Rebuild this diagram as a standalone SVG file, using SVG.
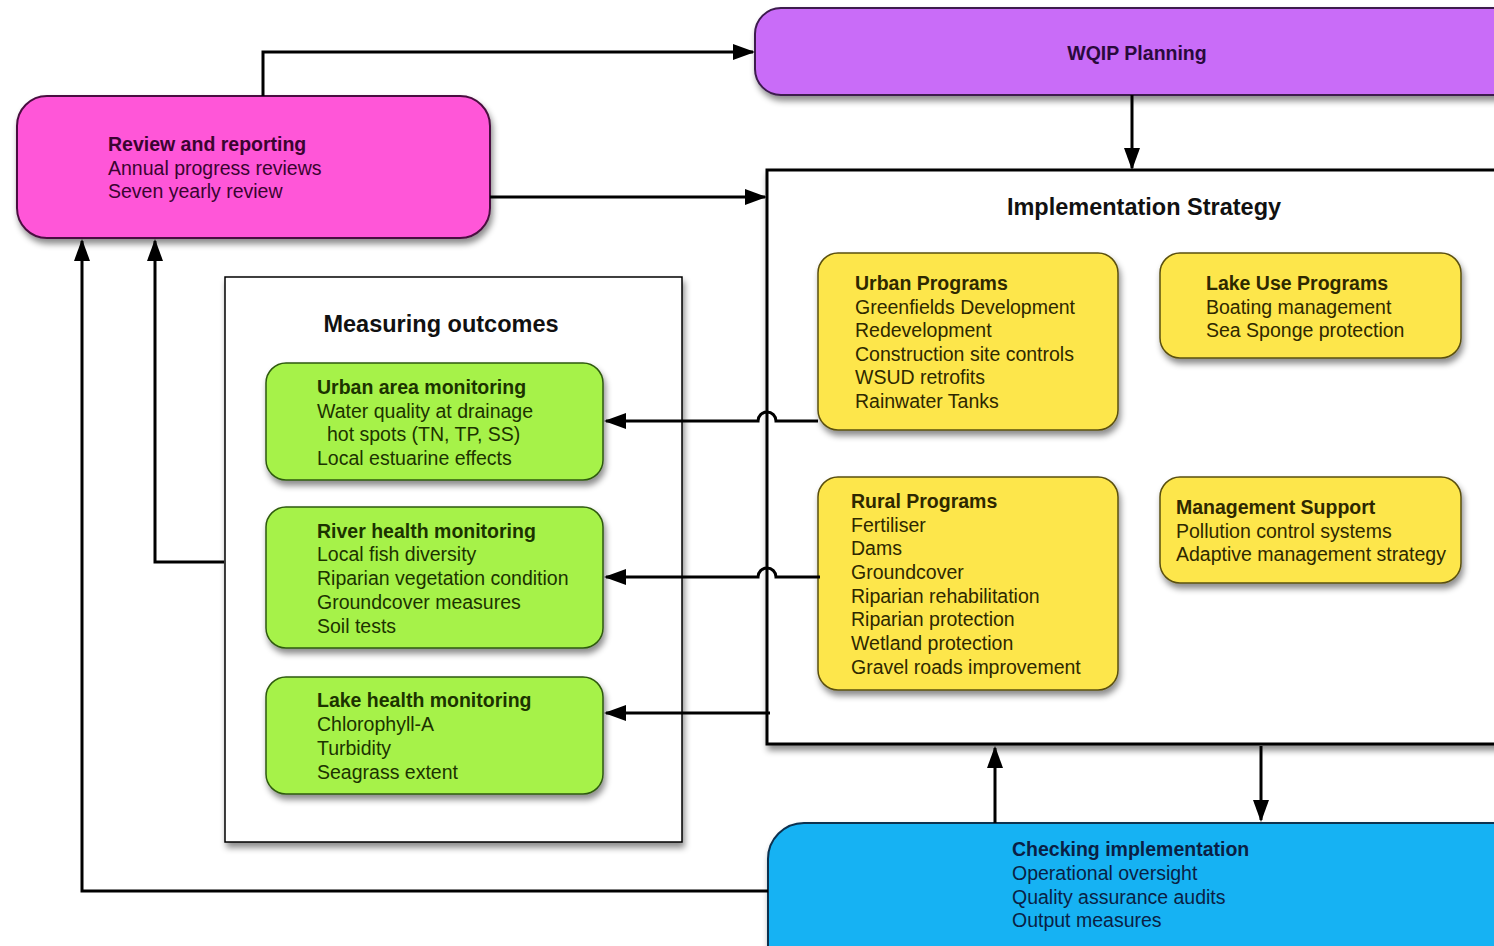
<svg xmlns="http://www.w3.org/2000/svg" width="1494" height="946" viewBox="0 0 1494 946">
<defs>
<filter id="sh" x="-10%" y="-10%" width="130%" height="140%">
<feDropShadow dx="2" dy="5" stdDeviation="3" flood-color="#000" flood-opacity="0.45"/>
</filter>
<marker id="ah" markerUnits="userSpaceOnUse" markerWidth="22" markerHeight="16" refX="20" refY="8" orient="auto">
<path d="M0,0 L22,8 L0,16 z" fill="#000"/>
</marker>
</defs>
<style>
text{font-family:"Liberation Sans",Arial,sans-serif;font-size:19.5px}
.b{font-weight:bold}
.t{font-weight:bold;font-size:23.5px;fill:#111}
.frame{fill:#fff;stroke:#000;filter:url(#sh)}
.y{fill:#fde64b;stroke:#5a4f10;stroke-width:1.5;filter:url(#sh)}
.g{fill:#a6f24a;stroke:#2f5a10;stroke-width:1.5;filter:url(#sh)}
.yt{fill:#2e2800}
.gt{fill:#1c3300}
.c{fill:none;stroke:#000;stroke-width:3}
</style>
<rect width="1494" height="946" fill="#fff"/>

<g id="wqip-planning">
<rect x="755" y="8" width="780" height="87" rx="26" fill="#c96cf8" stroke="#3c1a4e" stroke-width="2" filter="url(#sh)"/>
<text x="1137" y="60" text-anchor="middle" class="b" fill="#2a0a3c">WQIP Planning</text>
</g>

<g id="review-reporting">
<rect x="17" y="96" width="473" height="142" rx="30" fill="#ff57d8" stroke="#4a1040" stroke-width="2" filter="url(#sh)"/>
<text x="108" y="151" class="b" fill="#3a0430">Review and reporting</text>
<text x="108" y="175" fill="#3a0430">Annual progress reviews</text>
<text x="108" y="198" fill="#3a0430">Seven yearly review</text>
</g>

<g id="implementation-strategy">
<rect x="767" y="170" width="760" height="574" class="frame" stroke-width="3"/>
<text x="1144" y="215" text-anchor="middle" class="t">Implementation Strategy</text>
</g>

<g id="urban-programs">
<rect x="818" y="253" width="300" height="177" rx="20" class="y"/>
<text x="855" y="290" class="b yt">Urban Programs</text>
<text x="855" y="314" class="yt">Greenfields Development</text>
<text x="855" y="337" class="yt">Redevelopment</text>
<text x="855" y="361" class="yt">Construction site controls</text>
<text x="855" y="384" class="yt">WSUD retrofits</text>
<text x="855" y="408" class="yt">Rainwater Tanks</text>
</g>

<g id="lake-use-programs">
<rect x="1160" y="253" width="301" height="105" rx="20" class="y"/>
<text x="1206" y="290" class="b yt">Lake Use Programs</text>
<text x="1206" y="314" class="yt">Boating management</text>
<text x="1206" y="337" class="yt">Sea Sponge protection</text>
</g>

<g id="rural-programs">
<rect x="818" y="477" width="300" height="213" rx="20" class="y"/>
<text x="851" y="508" class="b yt">Rural Programs</text>
<text x="851" y="532" class="yt">Fertiliser</text>
<text x="851" y="555" class="yt">Dams</text>
<text x="851" y="579" class="yt">Groundcover</text>
<text x="851" y="603" class="yt">Riparian rehabilitation</text>
<text x="851" y="626" class="yt">Riparian protection</text>
<text x="851" y="650" class="yt">Wetland protection</text>
<text x="851" y="674" class="yt">Gravel roads improvement</text>
</g>

<g id="management-support">
<rect x="1160" y="477" width="301" height="106" rx="20" class="y"/>
<text x="1176" y="514" class="b yt">Management Support</text>
<text x="1176" y="538" class="yt">Pollution control systems</text>
<text x="1176" y="561" class="yt">Adaptive management strategy</text>
</g>

<g id="measuring-outcomes">
<rect x="225" y="277" width="457" height="565" class="frame" stroke-width="1.5"/>
<text x="441" y="332" text-anchor="middle" class="t">Measuring outcomes</text>
</g>

<g id="urban-area-monitoring">
<rect x="266" y="363" width="337" height="117" rx="20" class="g"/>
<text x="317" y="394" class="b gt">Urban area monitoring</text>
<text x="317" y="418" class="gt">Water quality at drainage</text>
<text x="327" y="441" class="gt">hot spots (TN, TP, SS)</text>
<text x="317" y="465" class="gt">Local estuarine effects</text>
</g>

<g id="river-health-monitoring">
<rect x="266" y="507" width="337" height="141" rx="20" class="g"/>
<text x="317" y="538" class="b gt">River health monitoring</text>
<text x="317" y="561" class="gt">Local fish diversity</text>
<text x="317" y="585" class="gt">Riparian vegetation condition</text>
<text x="317" y="609" class="gt">Groundcover measures</text>
<text x="317" y="633" class="gt">Soil tests</text>
</g>

<g id="lake-health-monitoring">
<rect x="266" y="677" width="337" height="117" rx="20" class="g"/>
<text x="317" y="707" class="b gt">Lake health monitoring</text>
<text x="317" y="731" class="gt">Chlorophyll-A</text>
<text x="317" y="755" class="gt">Turbidity</text>
<text x="317" y="779" class="gt">Seagrass extent</text>
</g>

<g id="checking-implementation">
<rect x="768" y="823" width="770" height="160" rx="36" fill="#16b2f3" stroke="#0a3050" stroke-width="2" filter="url(#sh)"/>
<text x="1012" y="856" class="b" fill="#0a1f45">Checking implementation</text>
<text x="1012" y="880" fill="#0a1f45">Operational oversight</text>
<text x="1012" y="904" fill="#0a1f45">Quality assurance audits</text>
<text x="1012" y="927" fill="#0a1f45">Output measures</text>
</g>

<g id="connectors">
<path class="c" d="M263,96 V52 H753" marker-end="url(#ah)"/>
<path class="c" d="M490,197 H765" marker-end="url(#ah)"/>
<path class="c" d="M1132,95 V168" marker-end="url(#ah)"/>
<path class="c" d="M818,421 H776 A9,9 0 0 0 758,421 H606" marker-end="url(#ah)"/>
<path class="c" d="M820,577 H776 A9,9 0 0 0 758,577 H606" marker-end="url(#ah)"/>
<path class="c" d="M770,713 H606" marker-end="url(#ah)"/>
<path class="c" d="M224,562 H155 V241" marker-end="url(#ah)"/>
<path class="c" d="M768,891 H82 V241" marker-end="url(#ah)"/>
<path class="c" d="M995,823 V748" marker-end="url(#ah)"/>
<path class="c" d="M1261,746 V820" marker-end="url(#ah)"/>
</g>
</svg>
